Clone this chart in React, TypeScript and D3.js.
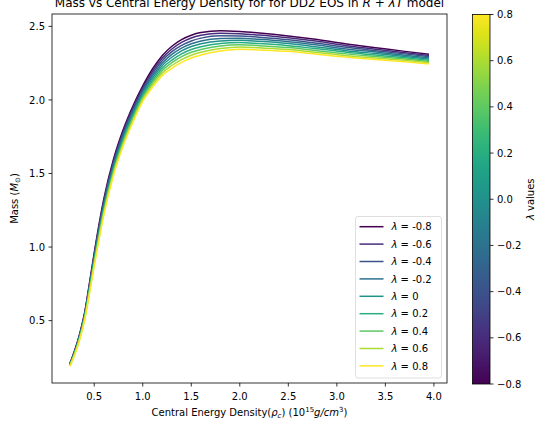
import React from 'react';
import * as d3 from 'd3';

const rho = [0.25, 0.30, 0.35, 0.40, 0.45, 0.50, 0.60, 0.70, 0.80, 0.90, 1.00, 1.10, 1.20, 1.30, 1.40, 1.50, 1.60, 1.80, 2.00, 2.20, 2.50, 2.80, 3.10, 3.40, 3.70, 3.95];

const massLm08 = [0.210, 0.300, 0.410, 0.550, 0.750, 0.960, 1.330, 1.600, 1.800, 1.960, 2.095, 2.210, 2.300, 2.365, 2.410, 2.440, 2.458, 2.470, 2.465, 2.455, 2.435, 2.410, 2.380, 2.355, 2.330, 2.310];
const massLm06 = [0.208, 0.296, 0.405, 0.544, 0.741, 0.949, 1.316, 1.586, 1.786, 1.946, 2.082, 2.194, 2.283, 2.346, 2.391, 2.421, 2.439, 2.453, 2.450, 2.441, 2.422, 2.398, 2.369, 2.345, 2.321, 2.302];
const massLm04 = [0.205, 0.293, 0.400, 0.538, 0.733, 0.938, 1.303, 1.573, 1.773, 1.933, 2.069, 2.179, 2.266, 2.328, 2.371, 2.401, 2.420, 2.436, 2.435, 2.426, 2.409, 2.385, 2.358, 2.335, 2.313, 2.294];
const massLm02 = [0.203, 0.289, 0.395, 0.531, 0.724, 0.926, 1.289, 1.559, 1.759, 1.919, 2.056, 2.163, 2.249, 2.309, 2.352, 2.382, 2.401, 2.418, 2.420, 2.412, 2.396, 2.373, 2.346, 2.325, 2.304, 2.286];
const massL0 = [0.200, 0.285, 0.390, 0.525, 0.715, 0.915, 1.275, 1.545, 1.745, 1.905, 2.043, 2.148, 2.233, 2.290, 2.333, 2.363, 2.382, 2.401, 2.405, 2.398, 2.383, 2.360, 2.335, 2.315, 2.295, 2.278];
const massL02 = [0.198, 0.281, 0.385, 0.519, 0.706, 0.904, 1.261, 1.531, 1.731, 1.891, 2.029, 2.132, 2.216, 2.271, 2.313, 2.343, 2.362, 2.384, 2.390, 2.383, 2.369, 2.348, 2.324, 2.305, 2.286, 2.269];
const massL04 = [0.195, 0.278, 0.380, 0.513, 0.698, 0.893, 1.248, 1.518, 1.718, 1.878, 2.016, 2.116, 2.199, 2.253, 2.294, 2.324, 2.343, 2.367, 2.375, 2.369, 2.356, 2.335, 2.313, 2.295, 2.278, 2.261];
const massL06 = [0.193, 0.274, 0.375, 0.506, 0.689, 0.881, 1.234, 1.504, 1.704, 1.864, 2.003, 2.101, 2.182, 2.234, 2.274, 2.304, 2.324, 2.349, 2.360, 2.354, 2.343, 2.323, 2.301, 2.285, 2.269, 2.253];
const massL08 = [0.190, 0.270, 0.370, 0.500, 0.680, 0.870, 1.220, 1.490, 1.690, 1.850, 1.990, 2.085, 2.165, 2.215, 2.255, 2.285, 2.305, 2.332, 2.345, 2.340, 2.330, 2.310, 2.290, 2.275, 2.260, 2.245];

const lambdas = [-0.8, -0.6, -0.4, -0.2, 0, 0.2, 0.4, 0.6, 0.8];
const lambdaLabels = ['-0.8', '-0.6', '-0.4', '-0.2', '0', '0.2', '0.4', '0.6', '0.8'];
const massSeries = [massLm08, massLm06, massLm04, massLm02, massL0, massL02, massL04, massL06, massL08];

const xTicks = [0.5, 1.0, 1.5, 2.0, 2.5, 3.0, 3.5, 4.0];
const yTicks = [0.5, 1.0, 1.5, 2.0, 2.5];
const cbTicks = [-0.8, -0.6, -0.4, -0.2, 0.0, 0.2, 0.4, 0.6, 0.8];

const W = 541, H = 434;
const L = 52, R = 447, T = 14, B = 383;
const FONT = 'DejaVu Sans';

export default function App() {
  const xMin = d3.min(rho)!, xMax = d3.max(rho)!;
  const xPad = (xMax - xMin) * 0.05;
  const allM = massSeries.flat();
  const yMin = d3.min(allM)!, yMax = d3.max(allM)!;
  const yPad = (yMax - yMin) * 0.05;
  const x = d3.scaleLinear().domain([xMin - xPad, xMax + xPad]).range([L, R]);
  const y = d3.scaleLinear().domain([yMin - yPad, yMax + yPad]).range([B, T]);
  const lamMin = d3.min(lambdas)!, lamMax = d3.max(lambdas)!;
  const cNorm = d3.scaleLinear().domain([lamMin, lamMax]).range([0, 1]);
  const color = (l: number) => d3.interpolateViridis(cNorm(l));

  const line = d3.line<[number, number]>()
    .x(d => x(d[0]))
    .y(d => y(d[1]))
    .curve(d3.curveMonotoneX);

  const cbL = 472.5, cbR = 490, cbT = 14.5, cbB = 384;
  const cbY = d3.scaleLinear().domain([lamMin, lamMax]).range([cbB, cbT]);
  const fmt = (v: number) => d3.format('.1f')(v).replace('-', '\u2212');

  const stops = d3.range(0, 1.0001, 0.05);

  const legX = 355.5, legY = 216.5, legW = 86, legH = 161.5;
  const entryY0 = 226.7, entryDy = 17.4;

  return (
    <svg width={W} height={H} style={{ position: 'absolute', left: 0, top: 0, background: '#fff' }} fontFamily={FONT}>
      <defs>
        <linearGradient id="vir" x1="0" y1="1" x2="0" y2="0">
          {stops.map((s, i) => (
            <stop key={i} offset={s} stopColor={d3.interpolateViridis(s)} />
          ))}
        </linearGradient>
        <clipPath id="clip">
          <rect x={L} y={T} width={R - L} height={B - T} />
        </clipPath>
      </defs>
      <rect x={0} y={0} width={W} height={H} fill="#fff" />

      <g clipPath="url(#clip)">
        {massSeries.map((ms, i) => (
          <path key={i}
            d={line(rho.map((r, j) => [r, ms[j]] as [number, number])) || ''}
            fill="none" stroke={color(lambdas[i])} strokeWidth={1.5} />
        ))}
      </g>

      <rect x={L} y={T} width={R - L} height={B - T} fill="none" stroke="#000" strokeWidth={0.8} />

      {xTicks.map(t => (
        <g key={t}>
          <line x1={x(t)} x2={x(t)} y1={B} y2={B + 3.5} stroke="#000" strokeWidth={0.8} />
          <text x={x(t)} y={B + 16.5} textAnchor="middle" fontSize={10} fill="#000">{t.toFixed(1)}</text>
        </g>
      ))}
      {yTicks.map(t => (
        <g key={t}>
          <line x1={L - 3.5} x2={L} y1={y(t)} y2={y(t)} stroke="#000" strokeWidth={0.8} />
          <text x={L - 7} y={y(t)} dy="0.36em" textAnchor="end" fontSize={10} fill="#000">{t.toFixed(1)}</text>
        </g>
      ))}

      <text x={(L + R) / 2} y={6.5} textAnchor="middle" fontSize={12} fill="#000">
        Mass vs Central Energy Density for for DD2 EOS in <tspan fontStyle="italic">R</tspan> + <tspan fontStyle="italic">λT</tspan> model
      </text>

      <text x={(L + R) / 2} y={416} textAnchor="middle" fontSize={10} fill="#000">
        Central Energy Density(<tspan fontStyle="italic">ρ</tspan><tspan fontStyle="italic" fontSize={7} dy={2}>c</tspan><tspan dy={-2}>) (10</tspan><tspan fontSize={7} dy={-4}>15</tspan><tspan fontStyle="italic" dy={4}>g/cm</tspan><tspan fontSize={7} dy={-4}>3</tspan><tspan dy={4}>)</tspan>
      </text>

      <text transform={`translate(18,${(T + B) / 2}) rotate(-90)`} textAnchor="middle" fontSize={10} fill="#000">
        Mass (<tspan fontStyle="italic">M</tspan><tspan fontSize={7} dy={2}>⊙</tspan><tspan dy={-2}>)</tspan>
      </text>

      <rect x={legX} y={legY} width={legW} height={legH} rx={2.5} fill="#fff" fillOpacity={0.8} stroke="#ccc" strokeOpacity={0.8} strokeWidth={0.8} />
      {lambdas.map((l, i) => {
        const ey = entryY0 + i * entryDy;
        return (
          <g key={i}>
            <line x1={359.5} x2={383.5} y1={ey} y2={ey} stroke={color(l)} strokeWidth={1.5} />
            <text x={391.5} y={ey} dy="0.36em" fontSize={10} fill="#000">
              <tspan fontStyle="italic">λ</tspan> = {lambdaLabels[i]}
            </text>
          </g>
        );
      })}

      <rect x={cbL} y={cbT} width={cbR - cbL} height={cbB - cbT} fill="url(#vir)" />
      <rect x={cbL} y={cbT} width={cbR - cbL} height={cbB - cbT} fill="none" stroke="#000" strokeWidth={0.8} />
      {cbTicks.map(t => (
        <g key={t}>
          <line x1={cbR} x2={cbR + 3.5} y1={cbY(t)} y2={cbY(t)} stroke="#000" strokeWidth={0.8} />
          <text x={cbR + 7} y={cbY(t)} dy="0.36em" fontSize={10} fill="#000">{fmt(t)}</text>
        </g>
      ))}
      <text transform={`translate(534,${(cbT + cbB) / 2}) rotate(-90)`} textAnchor="middle" fontSize={10} fill="#000">
        <tspan fontStyle="italic">λ</tspan> values
      </text>
    </svg>
  );
}
